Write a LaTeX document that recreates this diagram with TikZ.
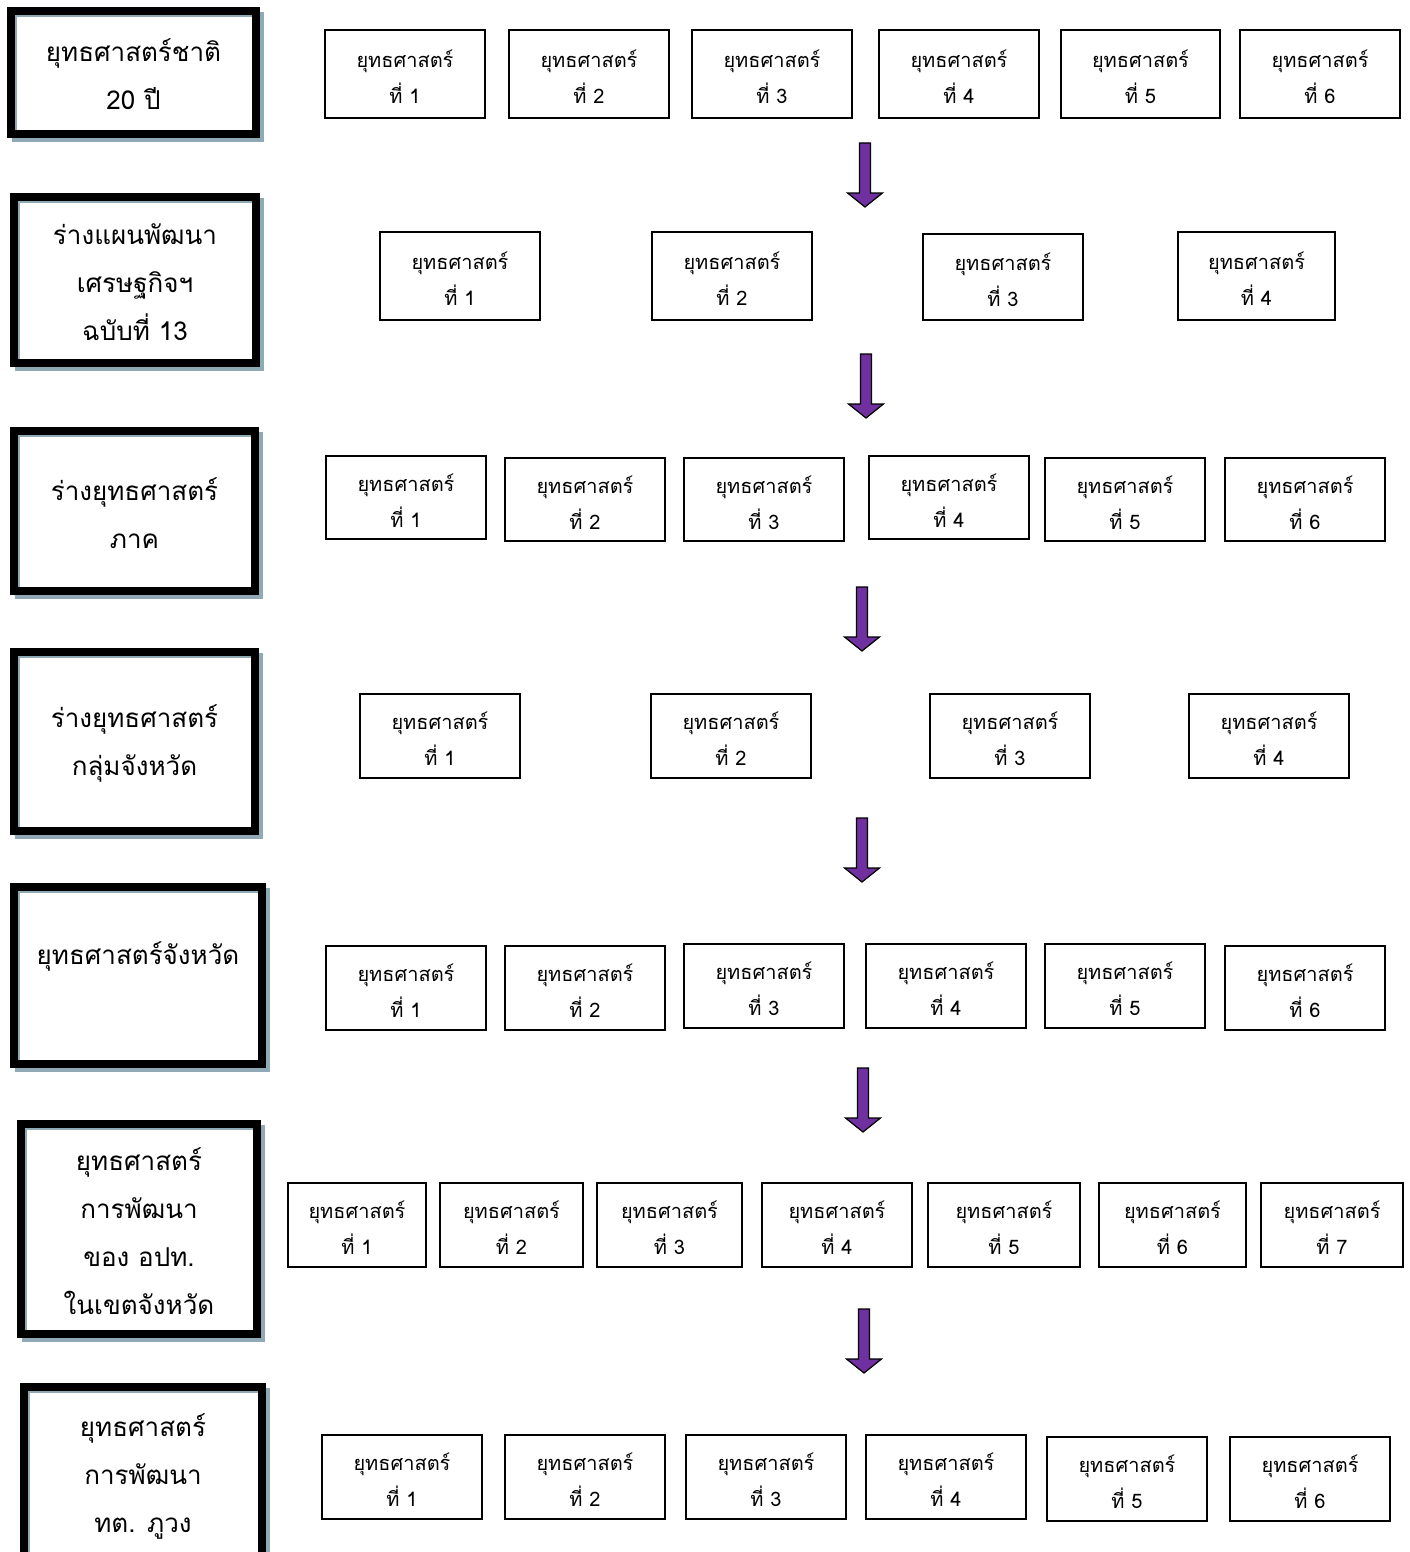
\documentclass[tikz,border=0pt]{standalone}
\usepackage{fontspec}
\setmainfont{Loma}[Script=Thai]
\usetikzlibrary{calc}
\definecolor{shadowc}{RGB}{143,170,180}
\definecolor{arrowc}{RGB}{112,48,160}
\tikzset{
  sbox/.style={draw=black, line width=2pt, fill=white, inner sep=0pt},
  stext/.style={inner sep=0pt, align=center, font=\fontsize{20}{36}\selectfont},
  lbox/.style={draw=black, line width=8pt, fill=white, inner sep=0pt},
  ltext/.style={inner sep=0pt, align=center, font=\fontsize{26}{48}\selectfont},
  blockarrow/.style={fill=arrowc, draw=black, line width=1.2pt, line join=miter},
}
% small box: name, x1, x2, y1, y2, number
\newcommand{\SBx}[6]{%
  \node[sbox, minimum width={#3-#2-2}, minimum height={#5-#4-2}] (#1) at ({(#2+#3)/2},{(#4+#5)/2}) {};
  \node[stext] at ($(#1.center)+(0,3)$) {ยุทธศาสตร์\\ที่ #6};}
% left box: name, x1, x2, y1, y2, text (outer extents)
\newcommand{\LBx}[6]{%
  \fill[shadowc] (#2+5,#4+5) rectangle (#3+4,#5+4);
  \node[lbox, minimum width={#3-#2-8}, minimum height={#5-#4-8}] (#1) at ({(#2+#3)/2},{(#4+#5)/2}) {};
  \draw[shadowc, line width=2pt] (#2+9,#5-8) -- (#2+9,#4+9) -- (#3-8,#4+9);
  \node[ltext] at ($(#1.center)+(0,2)$) {#6};
}
% block arrow: name, cx, ytop, ytip
\newcommand{\DAr}[4]{%
  \coordinate (#1) at (#2,#3);
  \draw[blockarrow] ($(#1)+(-5.5,0)$) -- ($(#1)+(5.5,0)$) -- ($(#1)+(5.5,#4-#3-14)$) -- ($(#1)+(17.5,#4-#3-14)$)
    -- ($(#1)+(0,#4-#3)$) -- ($(#1)+(-17.5,#4-#3-14)$) -- ($(#1)+(-5.5,#4-#3-14)$) -- cycle;
}
\begin{document}
\begin{tikzpicture}[x=1pt,y=-1pt]
\useasboundingbox (0,0) rectangle (1410,1552);
\begin{scope}
\clip (0,0) rectangle (1410,1552);
% left column
\LBx{L1}{7}{260}{7}{138}{ยุทธศาสตร์ชาติ\\20 ปี}
\LBx{L2}{10}{260}{193}{367}{ร่างแผนพัฒนา\\เศรษฐกิจฯ\\ฉบับที่ 13}
\LBx{L3}{10}{259}{427}{595}{ร่างยุทธศาสตร์\\ภาค}
\LBx{L4}{10}{259}{648}{835}{ร่างยุทธศาสตร์\\กลุ่มจังหวัด}
\LBx{L5}{10}{266}{883}{1068}{ยุทธศาสตร์จังหวัด\\\mbox{}}
\LBx{L6}{17}{261}{1120}{1338}{ยุทธศาสตร์\\การพัฒนา\\ของ อปท.\\ในเขตจังหวัด}
\LBx{L7}{20}{266}{1383}{1566}{ยุทธศาสตร์\\การพัฒนา\\ทต. ภูวง}
\end{scope}
% row 1
\SBx{a1}{324}{486}{29}{119}{1}
\SBx{a2}{508}{670}{29}{119}{2}
\SBx{a3}{691}{853}{29}{119}{3}
\SBx{a4}{878}{1040}{29}{119}{4}
\SBx{a5}{1060}{1221}{29}{119}{5}
\SBx{a6}{1239}{1401}{29}{119}{6}
% row 2
\SBx{b1}{379}{541}{231}{321}{1}
\SBx{b2}{651}{813}{231}{321}{2}
\SBx{b3}{922}{1084}{233}{321}{3}
\SBx{b4}{1177}{1336}{231}{321}{4}
% row 3
\SBx{c1}{325}{487}{455}{540}{1}
\SBx{c2}{504}{666}{457}{542}{2}
\SBx{c3}{683}{845}{457}{542}{3}
\SBx{c4}{868}{1030}{455}{540}{4}
\SBx{c5}{1044}{1206}{457}{542}{5}
\SBx{c6}{1224}{1386}{457}{542}{6}
% row 4
\SBx{d1}{359}{521}{693}{779}{1}
\SBx{d2}{650}{812}{693}{779}{2}
\SBx{d3}{929}{1091}{693}{779}{3}
\SBx{d4}{1188}{1350}{693}{779}{4}
% row 5
\SBx{e1}{325}{487}{945}{1031}{1}
\SBx{e2}{504}{666}{945}{1031}{2}
\SBx{e3}{683}{845}{943}{1029}{3}
\SBx{e4}{865}{1027}{943}{1029}{4}
\SBx{e5}{1044}{1206}{943}{1029}{5}
\SBx{e6}{1224}{1386}{945}{1031}{6}
% row 6
\SBx{f1}{287}{427}{1182}{1268}{1}
\SBx{f2}{439}{584}{1182}{1268}{2}
\SBx{f3}{596}{743}{1182}{1268}{3}
\SBx{f4}{761}{913}{1182}{1268}{4}
\SBx{f5}{927}{1081}{1182}{1268}{5}
\SBx{f6}{1098}{1247}{1182}{1268}{6}
\SBx{f7}{1260}{1404}{1182}{1268}{7}
% row 7
\SBx{g1}{321}{483}{1434}{1520}{1}
\SBx{g2}{504}{666}{1434}{1520}{2}
\SBx{g3}{685}{847}{1434}{1520}{3}
\SBx{g4}{865}{1027}{1434}{1520}{4}
\SBx{g5}{1046}{1208}{1436}{1522}{5}
\SBx{g6}{1229}{1391}{1436}{1522}{6}
% arrows
\DAr{ar1}{865}{143}{207}
\DAr{ar2}{866}{354}{418}
\DAr{ar3}{862}{587}{651}
\DAr{ar4}{862}{818}{882}
\DAr{ar5}{863}{1068}{1132}
\DAr{ar6}{864}{1309}{1373}
\end{tikzpicture}
\end{document}
